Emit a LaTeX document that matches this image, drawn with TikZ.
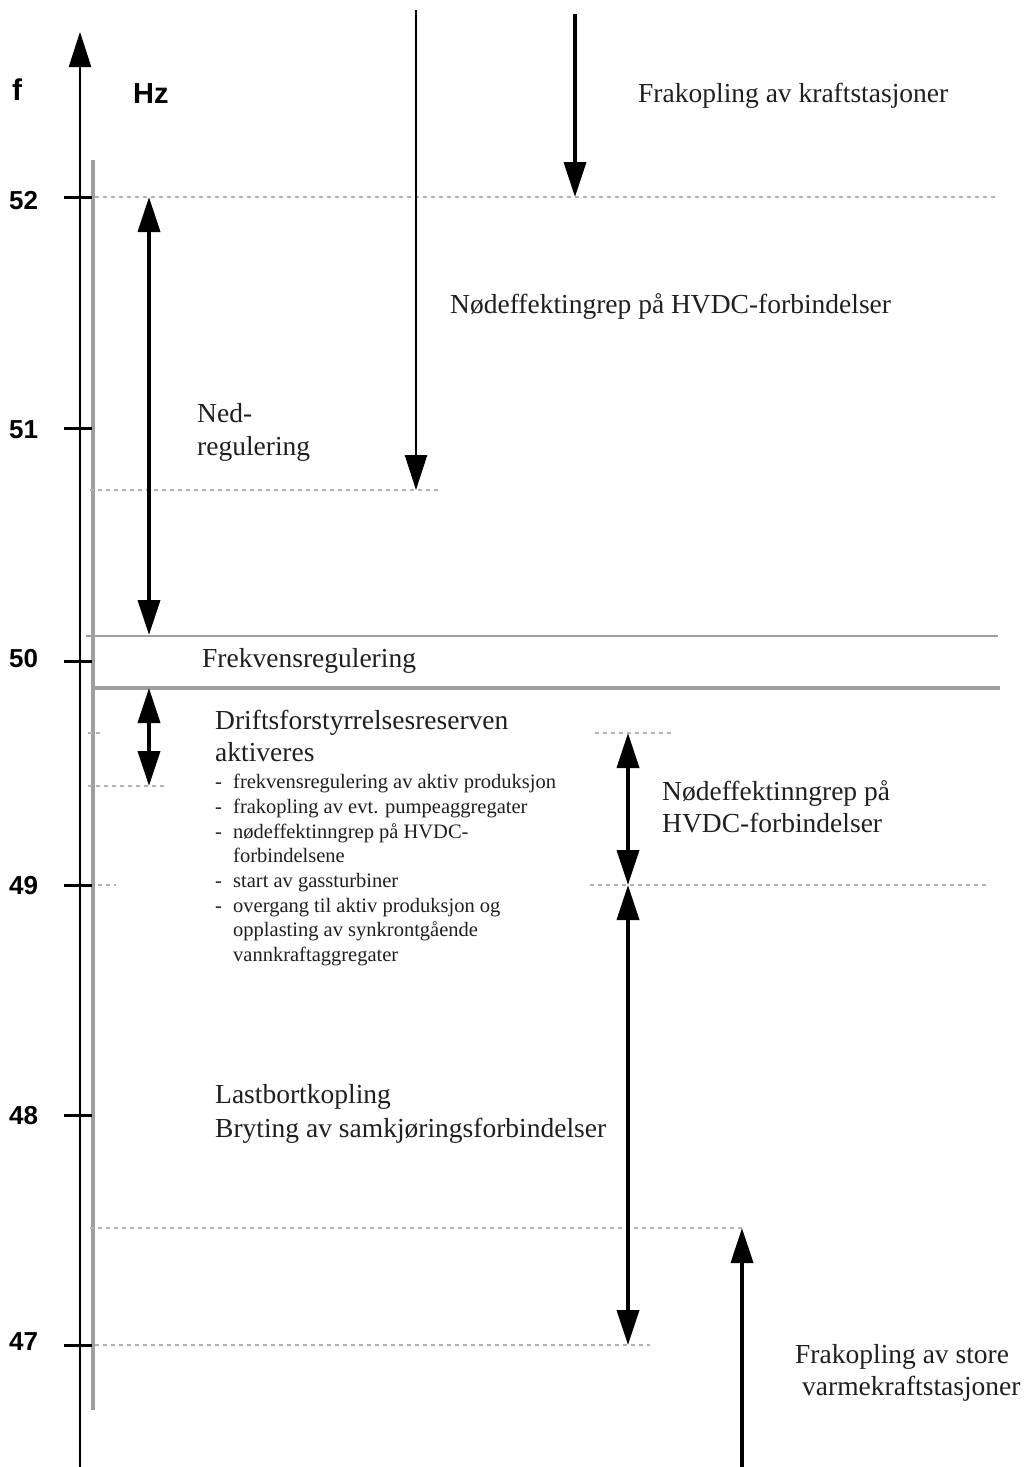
\documentclass[tikz,border=0pt]{standalone}
\usepackage{fontspec}
\setmainfont{Liberation Serif}
\newfontfamily\axfont{Liberation Sans}
\usetikzlibrary{arrows.meta}
\begin{document}
\begin{tikzpicture}[x=1pt,y=-1pt,
  big/.style={font=\fontsize{27.5}{33}\selectfont, inner sep=0pt, anchor=base west, text=black!88},
  small/.style={font=\fontsize{20.5}{24.7}\selectfont, inner sep=0pt, anchor=base west, text=black!88},
  axlab/.style={font=\axfont\bfseries\fontsize{26}{30}\selectfont, inner sep=0pt, anchor=west},
  guide/.style={draw=gray!60, line width=1.2pt, dash pattern=on 4pt off 4pt},
  bandline/.style={draw=gray!75},
  tick/.style={line width=3pt},
  tipA/.tip={Triangle[length=35pt,width=22pt]},
  arr/.style={line width=3.5pt, -tipA},
  darr/.style={line width=3.5pt, tipA-tipA},
]
\useasboundingbox (0,0) rectangle (1025,1467);

% ---------- axis ----------
\coordinate (axbot) at (80,1467);
\coordinate (axtop) at (80,32);
\draw[line width=2.6pt, -{Triangle[length=35pt,width=22pt]}] (axbot) -- (axtop);
\coordinate (gtop) at (93,160);
\coordinate (gbot) at (93,1410);
\draw[gray!75, line width=4pt] (gtop) -- (gbot);

\node[axlab, anchor=base west, font=\axfont\bfseries\fontsize{30}{34}\selectfont] (f) at (12,100) {f};
\node[axlab, anchor=base west, font=\axfont\bfseries\fontsize{29}{34}\selectfont] (hz) at (133,103) {Hz};

\foreach \v/\yy/\ly in {52/197/201, 51/428/430, 50/661/659, 49/885/886, 48/1115/1116, 47/1345/1342}{
  \draw[tick] (64,\yy) -- (92,\yy);
  \node[axlab] (lab\v) at (9,\ly) {\v};
}

% ---------- guide lines ----------
\draw[guide] (95,197) -- (995,197);
\draw[guide] (90,490) -- (440,490);
\draw[guide] (88,733) -- (102,733);
\draw[guide] (595,733) -- (672,733);
\draw[guide] (88,786) -- (165,786);
\draw[guide] (98,885) -- (116,885);
\draw[guide] (590,885) -- (990,885);
\draw[guide] (90,1228) -- (745,1228);
\draw[guide] (95,1345) -- (650,1345);

% ---------- band ----------
\draw[bandline, line width=2.2pt] (86,636) -- (998,636);
\draw[bandline, line width=3.2pt] (95,688) -- (1000,688);

% ---------- arrows ----------
\coordinate (a1s) at (416,10);   \coordinate (a1e) at (416,490);
\coordinate (a2s) at (575,14);   \coordinate (a2e) at (575,197);
\coordinate (d1s) at (149,197);  \coordinate (d1e) at (149,635);
\coordinate (d2s) at (149,688);  \coordinate (d2e) at (149,786);
\coordinate (d3s) at (628,733);  \coordinate (d3e) at (628,885);
\coordinate (d4s) at (628,885);  \coordinate (d4e) at (628,1345);
\coordinate (u1s) at (742,1467); \coordinate (u1e) at (742,1228);
\draw[line width=2.6pt, -tipA] (a1s) -- (a1e);
\draw[arr] (a2s) -- (a2e);
\draw[darr] (d1s) -- (d1e);
\draw[darr] (d2s) -- (d2e);
\draw[darr] (d3s) -- (d3e);
\draw[darr] (d4s) -- (d4e);
\draw[arr] (u1s) -- (u1e);

% ---------- texts ----------
\node[big] (t1) at (638,102) {Frakopling av kraftstasjoner};
\node[big] (t2) at (450,313) {Nødeffektingrep på HVDC-forbindelser};
\node[big] (t3a) at (197,422) {Ned-};
\node[big] (t3b) at (197,455) {regulering};
\node[big] (t4) at (202,667) {Frekvensregulering};
\node[big] (t5a) at (215,729) {Driftsforstyrrelsesreserven};
\node[big] (t5b) at (215,761) {aktiveres};
\newcommand\dashitem[1]{\makebox[18pt][l]{-}#1}
\newcommand\contitem[1]{\hspace*{18pt}#1}
\node[small] (l1) at (215,788) {\dashitem{frekvensregulering av aktiv produksjon}};
\node[small] (l2) at (215,813) {\dashitem{frakopling av evt. pumpeaggregater}};
\node[small] (l3) at (215,838) {\dashitem{nødeffektinngrep på HVDC-}};
\node[small] (l4) at (215,862) {\contitem{forbindelsene}};
\node[small] (l5) at (215,887) {\dashitem{start av gassturbiner}};
\node[small] (l6) at (215,912) {\dashitem{overgang til aktiv produksjon og}};
\node[small] (l7) at (215,936) {\contitem{opplasting av synkrontgående}};
\node[small] (l8) at (215,961) {\contitem{vannkraftaggregater}};
\node[big] (t6a) at (662,800) {Nødeffektinngrep på};
\node[big] (t6b) at (662,832) {HVDC-forbindelser};
\node[big] (t7a) at (215,1103) {Lastbortkopling};
\node[big] (t7b) at (215,1137) {Bryting av samkjøringsforbindelser};
\node[big] (t8a) at (795,1363) {Frakopling av store};
\node[big] (t8b) at (802,1395) {varmekraftstasjoner};
\end{tikzpicture}
\end{document}
